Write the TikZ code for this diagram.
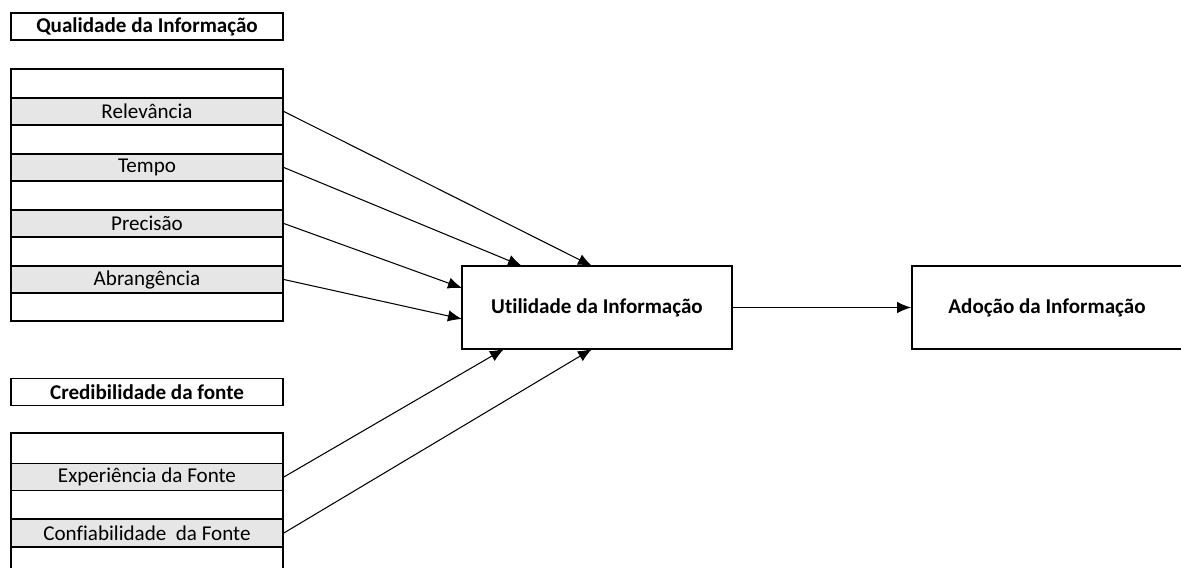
\documentclass[tikz,border=0pt]{standalone}
\usepackage{fontspec}
\setmainfont[Ligatures={NoCommon,NoRare,NoContextual}]{Carlito}
\usetikzlibrary{arrows.meta}

\definecolor{rowgray}{HTML}{E6E6E6}

\begin{document}
\begin{tikzpicture}[x=0.02cm, y=-0.02cm,
    every node/.style={rectangle, draw, line width=1pt, inner sep=0pt, font=\fontsize{12}{14}\selectfont},
    title/.style={minimum width=5.44cm, minimum height=0.54cm, font=\fontsize{12}{14}\selectfont\bfseries},
    frame/.style={minimum width=5.44cm},
    row/.style={fill=rowgray, minimum width=5.44cm, minimum height=0.54cm},
    block/.style={minimum width=5.4cm, minimum height=1.66cm, font=\fontsize{12}{14}\selectfont\bfseries},
    link/.style={line width=0.6pt, -{Latex[length=8pt,width=6.5pt]}}]
                \useasboundingbox (0,0) rectangle (1181,568);

                \node[title] (T1) at (147,26.5) {Qualidade da Informação};
                \node[frame, minimum height=5.04cm] (Q) at (147,195) {};
                \node[row] (Q1) at (147,111.5) {Relevância};
                \node[row] (Q2) at (147,167.5) {Tempo};
                \node[row] (Q3) at (147,223.5) {Precisão};
                \node[row] (Q4) at (147,279.5) {Abrangência};

                \node[title] (T2) at (147,392) {Credibilidade da fonte};
                \node[frame, minimum height=2.94cm] (C) at (147,506.5) {};
                \node[row] (C1) at (147,477) {Experiência da Fonte};
                \node[row, minimum height=0.56cm] (C2) at (147,533) {Confiabilidade\ \ da Fonte};

                \node[block] (U) at (597,307.5) {Utilidade da Informação};
                \node[block] (A) at (1047,307.5) {Adoção da Informação};

                \coordinate (u1) at (592,266);
                \coordinate (u2) at (522,266);
                \coordinate (u3) at (462,288);
                \coordinate (u4) at (462,319);
                \coordinate (u5) at (504,349);
                \coordinate (u6) at (592,349);

                \draw[link] (Q1.east) -- (u1);
                \draw[link] (Q2.east) -- (u2);
                \draw[link] (Q3.east) -- (u3);
                \draw[link] (Q4.east) -- (u4);
                \draw[link] (C1.east) -- (u5);
                \draw[link] (C2.east) -- (u6);
                \draw[link] (U.east) -- (A.west);
            \end{tikzpicture}
\end{document}
